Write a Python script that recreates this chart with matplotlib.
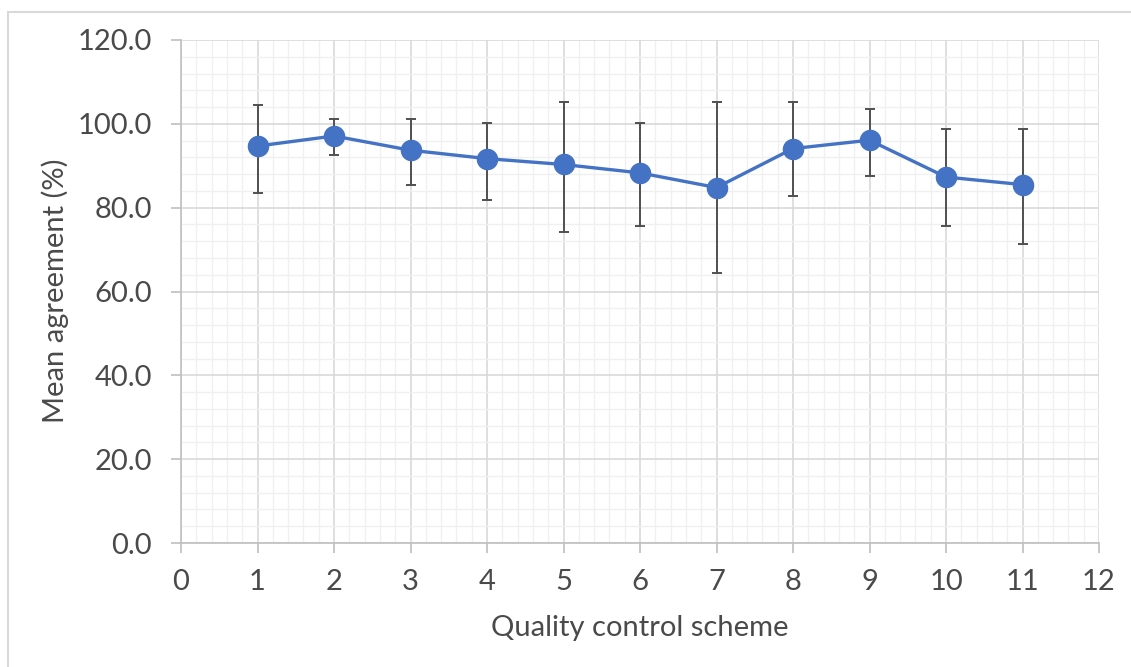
import matplotlib
matplotlib.use("Agg")
import matplotlib.pyplot as plt
from matplotlib.ticker import MultipleLocator, FormatStrFormatter
from matplotlib.patches import Rectangle

schemes = [1, 2, 3, 4, 5, 6, 7, 8, 9, 10, 11]
mean_agreement = [94.7, 97.1, 93.7, 91.7, 90.3, 88.3, 84.8, 94.1, 96.1, 87.3, 85.5]
err_upper = [104.6, 101.1, 101.1, 100.2, 105.1, 100.2, 105.1, 105.1, 103.6, 98.7, 98.7]
err_lower = [83.4, 92.5, 85.3, 81.9, 74.2, 75.7, 64.4, 82.8, 87.6, 75.7, 71.3]

yerr = [[m - lo for m, lo in zip(mean_agreement, err_lower)],
        [hi - m for m, hi in zip(mean_agreement, err_upper)]]

plt.rcParams['font.family'] = ['Lato', 'DejaVu Sans']
text_color = '#4a4a4a'

fig = plt.figure(figsize=(11.31, 6.67), dpi=100)
W, H = 1131, 667
fig.patches.append(Rectangle((8 / W, -0.1), 1.2, 1 - 12 / H + 0.1, transform=fig.transFigure,
                             fill=False, edgecolor='#d9d9d9', linewidth=1.5, zorder=0))
ax = fig.add_axes([181 / W, 1 - 543 / H, (1099 - 181) / W, (543 - 40) / H])

ax.errorbar(schemes, mean_agreement, yerr=yerr, fmt='none', ecolor='#505050',
            elinewidth=1.4, capsize=3.5, capthick=1.4, zorder=3)
ax.plot(schemes, mean_agreement, color='#4472C4', linewidth=2.4, marker='o',
        markersize=14.5, markerfacecolor='#4472C4', markeredgecolor='#4472C4', zorder=4)

ax.set_xlim(0, 12)
ax.set_ylim(0, 120)
ax.xaxis.set_major_locator(MultipleLocator(1))
ax.xaxis.set_minor_locator(MultipleLocator(0.2))
ax.yaxis.set_major_locator(MultipleLocator(20))
ax.yaxis.set_minor_locator(MultipleLocator(4))
ax.yaxis.set_major_formatter(FormatStrFormatter('%.1f'))

ax.grid(which='major', color='#d9d9d9', linewidth=1.2, zorder=0)
ax.grid(which='minor', color='#f0f0f0', linewidth=1.0, zorder=0)
ax.set_axisbelow(True)

for s in ['top', 'right']:
    ax.spines[s].set_visible(False)
for s in ['left', 'bottom']:
    ax.spines[s].set_color('#bfbfbf')
    ax.spines[s].set_linewidth(1.2)

ax.tick_params(axis='both', which='major', length=7, width=1.2, color='#bfbfbf',
               labelsize=21, labelcolor=text_color)
ax.tick_params(axis='x', which='major', pad=12)
ax.tick_params(axis='y', which='major', pad=14)
ax.tick_params(which='minor', length=0)

ax.set_xlabel('Quality control scheme', fontsize=21, color=text_color, va='center')
ax.set_ylabel('Mean agreement (%)', fontsize=21, color=text_color, va='center')
ax.xaxis.set_label_coords((640 - 181) / 918, (543 - 628) / 503)
ax.yaxis.set_label_coords((55 - 181) / 918, (543 - 291) / 503)

fig.savefig('out.png', dpi=100, facecolor='white')
